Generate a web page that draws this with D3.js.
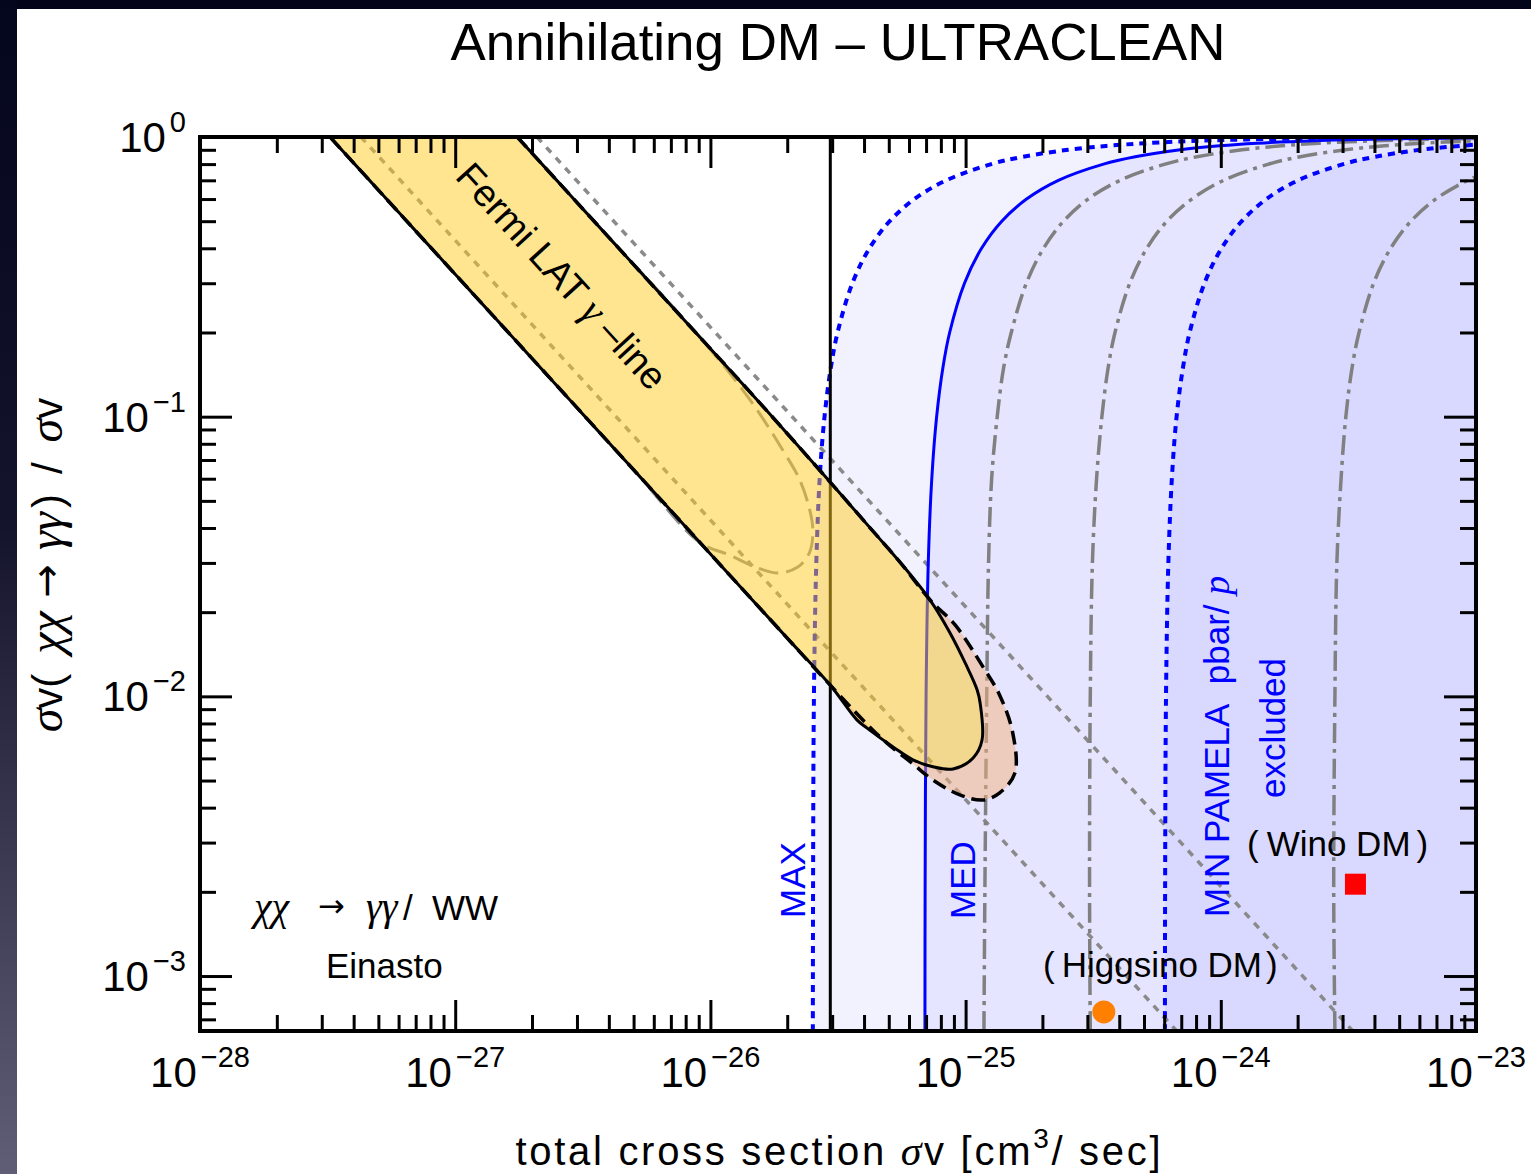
<!DOCTYPE html>
<html>
<head>
<meta charset="utf-8">
<script src="https://cdnjs.cloudflare.com/ajax/libs/d3/7.8.5/d3.min.js"></script>
<style>
  html, body { margin: 0; padding: 0; background: #02041a; }
  svg { display: block; }
</style>
</head>
<body>
<svg id="chart" width="1531" height="1174"></svg>
<script>
// ---------------- data ----------------
const xDomain = [1e-28, 1e-23];
const yDomain = [6.36e-4, 1];

const xMajorTicks = [1e-28, 1e-27, 1e-26, 1e-25, 1e-24, 1e-23];
const xTickExponents = ["\u221228", "\u221227", "\u221226", "\u221225", "\u221224", "\u221223"];
const yMajorTicks = [1e-3, 1e-2, 1e-1, 1];
const yTickExponents = ["\u22123", "\u22122", "\u22121", "0"];

// PAMELA pbar/p exclusion boundaries: [sigma v, BR(gamma gamma)]
const pamelaMax = [
  [2.52e-26, 6.36e-4], [2.525e-26, 2e-3], [2.545e-26, 0.01], [2.6e-26, 0.03], [2.68e-26, 0.06],
  [2.8e-26, 0.1], [2.965e-26, 0.15], [3.15e-26, 0.2], [3.6e-26, 0.3], [4.2e-26, 0.4],
  [5.04e-26, 0.5], [6.3e-26, 0.6], [8.4e-26, 0.7], [1.26e-25, 0.8], [1.68e-25, 0.85],
  [2.52e-25, 0.9], [3.6e-25, 0.93], [5.04e-25, 0.95], [8.4e-25, 0.97], [1.26e-24, 0.98],
  [2.52e-24, 0.99], [5.04e-24, 0.995], [1e-23, 0.9975]
];
const pamelaMed = [
  [6.93e-26, 6.36e-4], [6.94e-26, 2e-3], [7.0e-26, 0.01], [7.14e-26, 0.03], [7.37e-26, 0.06],
  [7.7e-26, 0.1], [8.15e-26, 0.15], [8.66e-26, 0.2], [9.9e-26, 0.3], [1.155e-25, 0.4],
  [1.386e-25, 0.5], [1.733e-25, 0.6], [2.31e-25, 0.7], [3.47e-25, 0.8], [4.62e-25, 0.85],
  [6.93e-25, 0.9], [9.9e-25, 0.93], [1.386e-24, 0.95], [2.31e-24, 0.97], [3.47e-24, 0.98],
  [6.93e-24, 0.99], [1e-23, 0.9931]
];
const pamelaMin = [
  [6.04e-25, 6.36e-4], [6.05e-25, 2e-3], [6.1e-25, 0.01], [6.23e-25, 0.03], [6.43e-25, 0.06],
  [6.71e-25, 0.1], [7.11e-25, 0.15], [7.55e-25, 0.2], [8.63e-25, 0.3], [1.007e-24, 0.4],
  [1.208e-24, 0.5], [1.51e-24, 0.6], [2.01e-24, 0.7], [3.02e-24, 0.8], [4.03e-24, 0.85],
  [6.04e-24, 0.9], [1e-23, 0.9396]
];

// grey dash-dotted boundaries
const greyCurve1 = [
  [1.18e-25, 6.36e-4], [1.19e-25, 2e-3], [1.21e-25, 0.01], [1.23e-25, 0.03], [1.265e-25, 0.06],
  [1.33e-25, 0.1], [1.41e-25, 0.15], [1.51e-25, 0.2], [1.73e-25, 0.3], [2.02e-25, 0.4],
  [2.42e-25, 0.5], [3.02e-25, 0.6], [4.03e-25, 0.7], [6.05e-25, 0.8], [8.07e-25, 0.85],
  [1.21e-24, 0.9], [1.73e-24, 0.93], [2.42e-24, 0.95], [4.03e-24, 0.97], [6.05e-24, 0.98],
  [1e-23, 0.988]
];
const greyCurve2 = [
  [3.08e-25, 6.36e-4], [3.06e-25, 2e-3], [3.08e-25, 0.01], [3.14e-25, 0.03], [3.26e-25, 0.06],
  [3.42e-25, 0.1], [3.62e-25, 0.15], [3.85e-25, 0.2], [4.4e-25, 0.3], [5.13e-25, 0.4],
  [6.15e-25, 0.5], [7.7e-25, 0.6], [1.025e-24, 0.7], [1.54e-24, 0.8], [2.05e-24, 0.85],
  [3.08e-24, 0.9], [4.4e-24, 0.93], [6.15e-24, 0.95], [1e-23, 0.969]
];
const greyCurve3 = [
  [2.8e-24, 6.36e-4], [2.77e-24, 2e-3], [2.8e-24, 0.01], [2.85e-24, 0.03], [2.96e-24, 0.06],
  [3.09e-24, 0.1], [3.27e-24, 0.15], [3.48e-24, 0.2], [3.97e-24, 0.3], [4.63e-24, 0.4],
  [5.56e-24, 0.5], [6.95e-24, 0.6], [9.27e-24, 0.7], [1e-23, 0.722]
];

// grey dotted lines of constant sigma v(gamma gamma)
const constLineA = [[4.27e-28, 1], [6.72e-25, 6.36e-4]];
const constLineB = [[2.09e-27, 1], [3.29e-24, 6.36e-4]];

// thermal relic cross section
const relicLine = [[2.95e-26, 6.36e-4], [2.95e-26, 1]];

// Fermi LAT gamma-line region, solid contour
const fermiSolid = [
  [1.75e-27, 1.0], [4e-27, 0.4375], [9.1e-27, 0.1923], [1.5e-26, 0.1167], [2.94e-26, 0.0585],
  [4.3e-26, 0.0393], [5.53e-26, 0.0302], [7.26e-26, 0.0221],
  [8.69e-26, 0.01686], [1.005e-25, 0.01295], [1.11e-25, 0.01054], [1.14e-25, 0.00947],
  [1.16e-25, 0.00698], [1.07e-25, 0.00602], [8.93e-26, 0.0055], [7.45e-26, 0.0056],
  [6.22e-26, 0.00593], [5.2e-26, 0.00659], [4.11e-26, 0.0077], [3.75e-26, 0.00824],
  [2.94e-26, 0.011], [2e-26, 0.01615], [1e-26, 0.0323], [3e-27, 0.1077], [1e-27, 0.323],
  [3.23e-28, 1.0]
];
// dashed (wider) contour
const fermiDashed = [
  [1.75e-27, 1.0], [4e-27, 0.4375], [9.1e-27, 0.1923], [1.5e-26, 0.1167], [2.94e-26, 0.0585],
  [4.3e-26, 0.0393], [5.53e-26, 0.0302], [7.26e-26, 0.0221],
  [9.1e-26, 0.018], [1.17e-25, 0.01274], [1.36e-25, 0.0101], [1.53e-25, 0.0074],
  [1.56e-25, 0.00532], [1.36e-25, 0.00452], [1.17e-25, 0.00426], [9.5e-26, 0.00444],
  [7.45e-26, 0.00502], [6.22e-26, 0.00573], [4.62e-26, 0.00716], [2.94e-26, 0.011],
  [2e-26, 0.01615], [1e-26, 0.0323], [3e-27, 0.1077], [1e-27, 0.323], [3.23e-28, 1.0]
];
// grey long-dashed inner contour
const fermiInner = [
  [1.75e-27, 1.0], [4e-27, 0.4375], [9.1e-27, 0.1923], [1.43e-26, 0.1148], [1.92e-26, 0.076],
  [2.24e-26, 0.0594], [2.45e-26, 0.0464], [2.52e-26, 0.0394], [2.45e-26, 0.0328],
  [2.2e-26, 0.029], [1.84e-26, 0.0276], [1.5e-26, 0.029], [1.19e-26, 0.032],
  [9.1e-27, 0.0355], [5e-27, 0.0646], [2e-27, 0.1615], [1e-27, 0.323], [3.23e-28, 1.0]
];

// benchmark models
const higgsino = [3.48e-25, 7.44e-4];
const wino = [3.37e-24, 2.13e-3];

// ---------------- layout ----------------
const W = 1531, H = 1174;
const plot = { left: 200, right: 1476, top: 137, bottom: 1031 };
const sans = "'Liberation Sans', Arial, Helvetica, sans-serif";
const serif = "'Liberation Serif', 'Times New Roman', serif";
const arrowFont = "'DejaVu Sans', sans-serif";

const svg = d3.select("#chart");
const defs = svg.append("defs");

const grad = defs.append("linearGradient").attr("id", "edgeGrad")
  .attr("x1", 0).attr("y1", 0).attr("x2", 0).attr("y2", 1);
grad.append("stop").attr("offset", "0%").attr("stop-color", "#04061d");
grad.append("stop").attr("offset", "45%").attr("stop-color", "#14142c");
grad.append("stop").attr("offset", "100%").attr("stop-color", "#605e76");

defs.append("clipPath").attr("id", "plotClip")
  .append("rect")
  .attr("x", plot.left).attr("y", plot.top)
  .attr("width", plot.right - plot.left).attr("height", plot.bottom - plot.top);

// slide background and white panel
svg.append("rect").attr("width", W).attr("height", H).attr("fill", "#02041a");
svg.append("rect").attr("x", 0).attr("y", 0).attr("width", 17).attr("height", H).attr("fill", "url(#edgeGrad)");
svg.append("rect").attr("x", 17).attr("y", 9).attr("width", W - 17).attr("height", H - 9).attr("fill", "#ffffff");

const xs = d3.scaleLog().domain(xDomain).range([plot.left, plot.right]);
const ys = d3.scaleLog().domain(yDomain).range([plot.bottom, plot.top]);

const smooth = d3.line().x(d => xs(d[0])).y(d => ys(d[1])).curve(d3.curveCatmullRom.alpha(0.5));
const straight = d3.line().x(d => xs(d[0])).y(d => ys(d[1]));

const g = svg.append("g").attr("clip-path", "url(#plotClip)");

// excluded regions (to the right of each PAMELA boundary)
[pamelaMax, pamelaMed, pamelaMin].forEach(c => {
  g.append("path")
    .attr("d", smooth(c) + `L${xs(xDomain[1])},${ys(yDomain[0])}Z`)
    .attr("fill", "#0000ff").attr("fill-opacity", 0.05).attr("stroke", "none");
});

// constant sigma v(gamma gamma) lines
[constLineA, constLineB].forEach(c => {
  g.append("path").attr("d", straight(c))
    .attr("fill", "none").attr("stroke", "#8a8a8a").attr("stroke-width", 3.5)
    .attr("stroke-dasharray", "7,7");
});

// grey dash-dotted boundaries
[greyCurve1, greyCurve2, greyCurve3].forEach(c => {
  g.append("path").attr("d", smooth(c))
    .attr("fill", "none").attr("stroke", "#808080").attr("stroke-width", 3.5)
    .attr("stroke-dasharray", "20,6,4,6");
});

// PAMELA boundaries
g.append("path").attr("d", smooth(pamelaMax))
  .attr("fill", "none").attr("stroke", "#0000ff").attr("stroke-width", 4)
  .attr("stroke-dasharray", "7,6");
g.append("path").attr("d", smooth(pamelaMed))
  .attr("fill", "none").attr("stroke", "#0000ff").attr("stroke-width", 3);
g.append("path").attr("d", smooth(pamelaMin))
  .attr("fill", "none").attr("stroke", "#0000ff").attr("stroke-width", 4)
  .attr("stroke-dasharray", "7,6");

// thermal relic line
g.append("path").attr("d", straight(relicLine))
  .attr("fill", "none").attr("stroke", "#000").attr("stroke-width", 3);

// inner grey contour
g.append("path").attr("d", smooth(fermiInner))
  .attr("fill", "none").attr("stroke", "#8c8c8c").attr("stroke-width", 3)
  .attr("stroke-dasharray", "20,8");

// Fermi LAT region fills
g.append("path").attr("d", smooth(fermiSolid))
  .attr("fill", "#ffcb1f").attr("fill-opacity", 0.5).attr("stroke", "none");
g.append("path").attr("d", smooth(fermiDashed) + "Z" + smooth(fermiSolid) + "Z")
  .attr("fill", "#f6b27c").attr("fill-opacity", 0.5).attr("fill-rule", "evenodd").attr("stroke", "none");

// Fermi LAT contours
g.append("path").attr("d", smooth(fermiSolid))
  .attr("fill", "none").attr("stroke", "#000").attr("stroke-width", 3);
g.append("path").attr("d", smooth(fermiDashed))
  .attr("fill", "none").attr("stroke", "#000").attr("stroke-width", 3.5)
  .attr("stroke-dasharray", "14,7");

// benchmark markers
g.append("circle").attr("cx", xs(higgsino[0])).attr("cy", ys(higgsino[1])).attr("r", 11.5)
  .attr("fill", "#ff8000");
g.append("rect").attr("x", xs(wino[0]) - 10.5).attr("y", ys(wino[1]) - 10.5)
  .attr("width", 21).attr("height", 21).attr("fill", "#ff0000");

// ---------------- annotations ----------------
const fermiLabel = svg.append("text")
  .attr("transform", "translate(562,276) rotate(47.6)")
  .attr("text-anchor", "middle").attr("dy", "0.35em")
  .attr("font-family", sans).attr("font-size", 38).attr("fill", "#000");
fermiLabel.append("tspan").text("Fermi LAT ");
fermiLabel.append("tspan").attr("font-family", serif).attr("font-style", "italic").attr("font-size", 40).text("\u03b3");
fermiLabel.append("tspan").text(" \u2013line");

function vlabel(txt, x, y, anchor) {
  return svg.append("text")
    .attr("transform", `translate(${x},${y}) rotate(-90)`)
    .attr("text-anchor", anchor)
    .attr("font-family", sans).attr("font-size", 35).attr("fill", "#0000ff")
    .text(txt);
}
vlabel("MAX", 805, 880, "middle");
vlabel("MED", 975, 880, "middle");
const minLab = vlabel("MIN PAMELA\u00a0\u00a0pbar/ ", 1229, 917, "start");
minLab.append("tspan").attr("font-family", serif).attr("font-style", "italic").attr("font-size", 38).text("p");
vlabel("excluded", 1285, 728, "middle");

const winoLab = svg.append("text").attr("x", 1247).attr("y", 856)
  .attr("font-family", sans).attr("font-size", 35).attr("fill", "#000");
winoLab.append("tspan").attr("font-weight", 300).text("(");
winoLab.append("tspan").attr("dx", 8).text("Wino DM");
winoLab.append("tspan").attr("dx", 6).attr("font-weight", 300).text(")");

const higgsLab = svg.append("text").attr("x", 1043).attr("y", 977)
  .attr("font-family", sans).attr("font-size", 35).attr("fill", "#000");
higgsLab.append("tspan").attr("font-weight", 300).text("(");
higgsLab.append("tspan").attr("dx", 7).text("Higgsino DM");
higgsLab.append("tspan").attr("dx", 4).attr("font-weight", 300).text(")");

const proc = svg.append("text").attr("y", 920)
  .attr("font-family", sans).attr("font-size", 35).attr("fill", "#000");
proc.append("tspan").attr("x", 254).attr("font-family", serif).attr("font-style", "italic").attr("font-size", 40).text("\u03c7\u03c7");
proc.append("tspan").attr("x", 318).attr("dy", -3).attr("font-family", arrowFont).attr("font-size", 32).text("\u2192");
proc.append("tspan").attr("x", 366).attr("dy", 3).attr("font-family", serif).attr("font-style", "italic").attr("font-size", 40).text("\u03b3\u03b3");
proc.append("tspan").attr("x", 403).text("/");
proc.append("tspan").attr("x", 432).text("WW");

svg.append("text").attr("x", 326).attr("y", 978)
  .attr("font-family", sans).attr("font-size", 35).attr("fill", "#000")
  .text("Einasto");

// ---------------- frame and axes ----------------
svg.append("rect")
  .attr("x", plot.left).attr("y", plot.top)
  .attr("width", plot.right - plot.left).attr("height", plot.bottom - plot.top)
  .attr("fill", "none").attr("stroke", "#000").attr("stroke-width", 4);

function minorTicks(domain) {
  const out = [];
  const lo = Math.floor(Math.log10(domain[0])), hi = Math.ceil(Math.log10(domain[1]));
  for (let e = lo; e < hi; e++) {
    for (let m = 2; m <= 9; m++) {
      const v = m * Math.pow(10, e);
      if (v >= domain[0] && v <= domain[1]) out.push(v);
    }
  }
  return out;
}
const xMinor = minorTicks(xDomain);
const yMinor = minorTicks(yDomain);

function styleAxis(sel) {
  sel.select(".domain").remove();
  sel.selectAll(".tick line").attr("stroke", "#000").attr("stroke-width", 3);
  sel.selectAll(".tick text").remove();
}

svg.append("g").attr("transform", `translate(0,${plot.bottom})`)
  .call(d3.axisBottom(xs).tickValues(xMajorTicks).tickSize(-31).tickFormat("")).call(styleAxis);
svg.append("g").attr("transform", `translate(0,${plot.bottom})`)
  .call(d3.axisBottom(xs).tickValues(xMinor).tickSize(-16).tickFormat("")).call(styleAxis);
svg.append("g").attr("transform", `translate(0,${plot.top})`)
  .call(d3.axisTop(xs).tickValues(xMajorTicks).tickSize(-31).tickFormat("")).call(styleAxis);
svg.append("g").attr("transform", `translate(0,${plot.top})`)
  .call(d3.axisTop(xs).tickValues(xMinor).tickSize(-16).tickFormat("")).call(styleAxis);
svg.append("g").attr("transform", `translate(${plot.left},0)`)
  .call(d3.axisLeft(ys).tickValues(yMajorTicks).tickSize(-32).tickFormat("")).call(styleAxis);
svg.append("g").attr("transform", `translate(${plot.left},0)`)
  .call(d3.axisLeft(ys).tickValues(yMinor).tickSize(-16).tickFormat("")).call(styleAxis);
svg.append("g").attr("transform", `translate(${plot.right},0)`)
  .call(d3.axisRight(ys).tickValues(yMajorTicks).tickSize(-32).tickFormat("")).call(styleAxis);
svg.append("g").attr("transform", `translate(${plot.right},0)`)
  .call(d3.axisRight(ys).tickValues(yMinor).tickSize(-16).tickFormat("")).call(styleAxis);

// tick labels with superscript exponents
xMajorTicks.forEach((v, i) => {
  const t = svg.append("text").attr("x", xs(v)).attr("y", 1087)
    .attr("text-anchor", "middle").attr("font-family", sans).attr("font-size", 42).attr("fill", "#000");
  t.append("tspan").text("10");
  t.append("tspan").attr("dx", 4).attr("dy", -20).attr("font-size", 29).text(xTickExponents[i]);
});
yMajorTicks.forEach((v, i) => {
  const t = svg.append("text").attr("x", 186).attr("y", ys(v) + 15)
    .attr("text-anchor", "end").attr("font-family", sans).attr("font-size", 42).attr("fill", "#000");
  t.append("tspan").text("10");
  t.append("tspan").attr("dx", 4).attr("dy", -20).attr("font-size", 29).text(yTickExponents[i]);
});

// axis titles
const xTitle = svg.append("text").attr("x", 838).attr("y", 1165)
  .attr("text-anchor", "middle").attr("font-family", sans).attr("font-size", 40).attr("fill", "#000")
  .attr("textLength", 645).attr("lengthAdjust", "spacing");
xTitle.append("tspan").text("total cross section ");
xTitle.append("tspan").attr("font-family", serif).attr("font-style", "italic").attr("font-size", 42).text("\u03c3");
xTitle.append("tspan").text("v [cm");
xTitle.append("tspan").attr("dy", -17).attr("font-size", 28).text("3");
xTitle.append("tspan").attr("dy", 17).text("/ sec]");

const yTitle = svg.append("text").attr("transform", "translate(62,565) rotate(-90)")
  .attr("text-anchor", "middle").attr("font-family", sans).attr("font-size", 42).attr("fill", "#000");
yTitle.append("tspan").attr("font-family", serif).attr("font-style", "italic").attr("font-size", 48).text("\u03c3");
yTitle.append("tspan").text("v(");
yTitle.append("tspan").attr("dx", 20).attr("font-family", serif).attr("font-style", "italic").attr("font-size", 48).text("\u03c7\u03c7");
yTitle.append("tspan").attr("dx", 14).attr("dy", -2).attr("font-family", arrowFont).attr("font-size", 40).text("\u2192");
yTitle.append("tspan").attr("dx", 14).attr("dy", 2).attr("font-family", serif).attr("font-style", "italic").attr("font-size", 48).text("\u03b3\u03b3");
yTitle.append("tspan").attr("dx", 4).text(")");
yTitle.append("tspan").attr("dx", 20).text("/");
yTitle.append("tspan").attr("dx", 20).attr("font-family", serif).attr("font-style", "italic").attr("font-size", 48).text("\u03c3");
yTitle.append("tspan").text("v");

// chart title
svg.append("text").attr("x", 838).attr("y", 60)
  .attr("text-anchor", "middle").attr("font-family", sans).attr("font-size", 52).attr("fill", "#000")
  .attr("textLength", 775).attr("lengthAdjust", "spacingAndGlyphs")
  .text("Annihilating DM \u2013 ULTRACLEAN");
</script>
</body>
</html>
